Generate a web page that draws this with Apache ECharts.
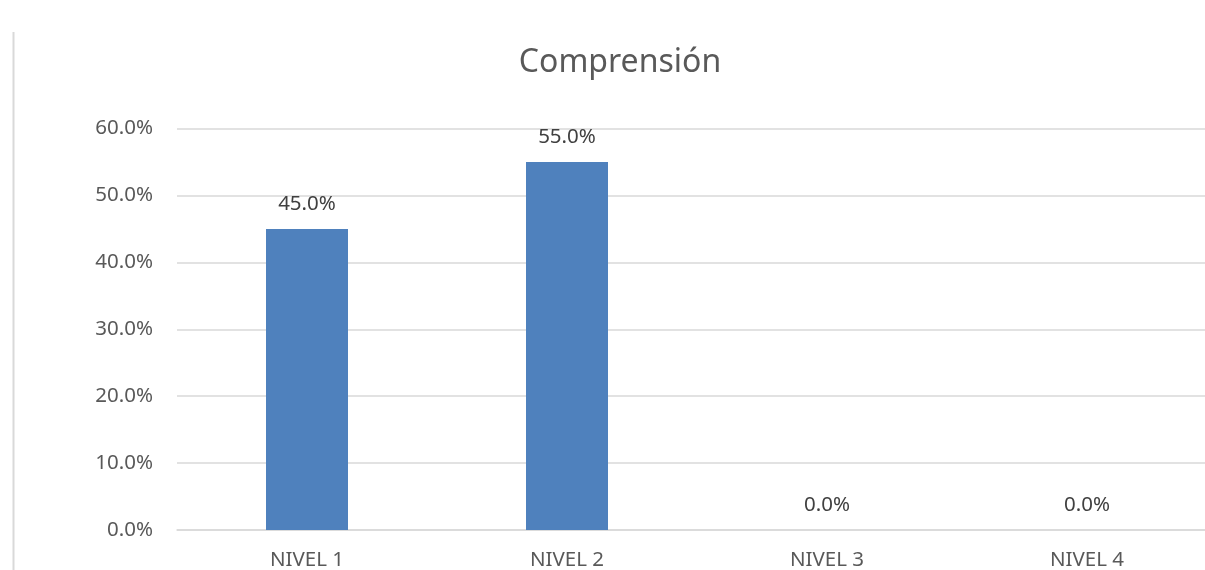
<!DOCTYPE html>
<html>
<head>
<meta charset="utf-8">
<script src="https://cdn.jsdelivr.net/npm/echarts@6/dist/echarts.min.js"></script>
<style>
html,body{margin:0;padding:0;background:#fff;}
#chart{width:1205px;height:570px;}
</style>
</head>
<body>
<div id="chart"></div>
<script>
const categories = ['NIVEL 1', 'NIVEL 2', 'NIVEL 3', 'NIVEL 4'];
const values = [45.0, 55.0, 0.0, 0.0];
const titleText = 'Comprensión';

const chart = echarts.init(document.getElementById('chart'));
const font = '"Noto Sans", "Open Sans", sans-serif';
chart.setOption({
  animation: false,
  backgroundColor: '#ffffff',
  title: {
    text: titleText,
    left: 615,
    top: 42,
    textAlign: 'center',
    textStyle: { fontFamily: font, fontSize: 32, fontWeight: 'normal', color: '#595959' }
  },
  graphic: [{
    type: 'line',
    shape: { x1: 13.5, y1: 32, x2: 13.5, y2: 570 },
    style: { stroke: '#d9d9d9', lineWidth: 2 }
  }],
  grid: { left: 177, width: 1040, top: 128.5, bottom: 40, containLabel: false, outerBoundsMode: 'none' },
  xAxis: {
    type: 'category',
    data: categories,
    axisLine: { show: true, lineStyle: { color: '#d9d9d9', width: 1.5 } },
    axisTick: { show: false },
    axisLabel: { margin: 20, fontFamily: font, fontSize: 20.5, color: '#595959' }
  },
  yAxis: {
    type: 'value',
    min: 0,
    max: 60,
    interval: 10,
    axisLine: { show: false },
    axisTick: { show: false },
    splitLine: { lineStyle: { color: '#d9d9d9', width: 1.5 } },
    axisLabel: {
      margin: 24,
      fontFamily: font, fontSize: 20.5, color: '#595959',
      formatter: v => v.toFixed(1) + '%'
    }
  },
  series: [{
    type: 'bar',
    data: values,
    barWidth: 82,
    itemStyle: { color: '#4f81bd' },
    label: {
      show: true,
      position: 'top',
      distance: 14,
      fontFamily: font, fontSize: 20.5, color: '#404040',
      formatter: p => p.value.toFixed(1) + '%'
    }
  }]
});
</script>
</body>
</html>
